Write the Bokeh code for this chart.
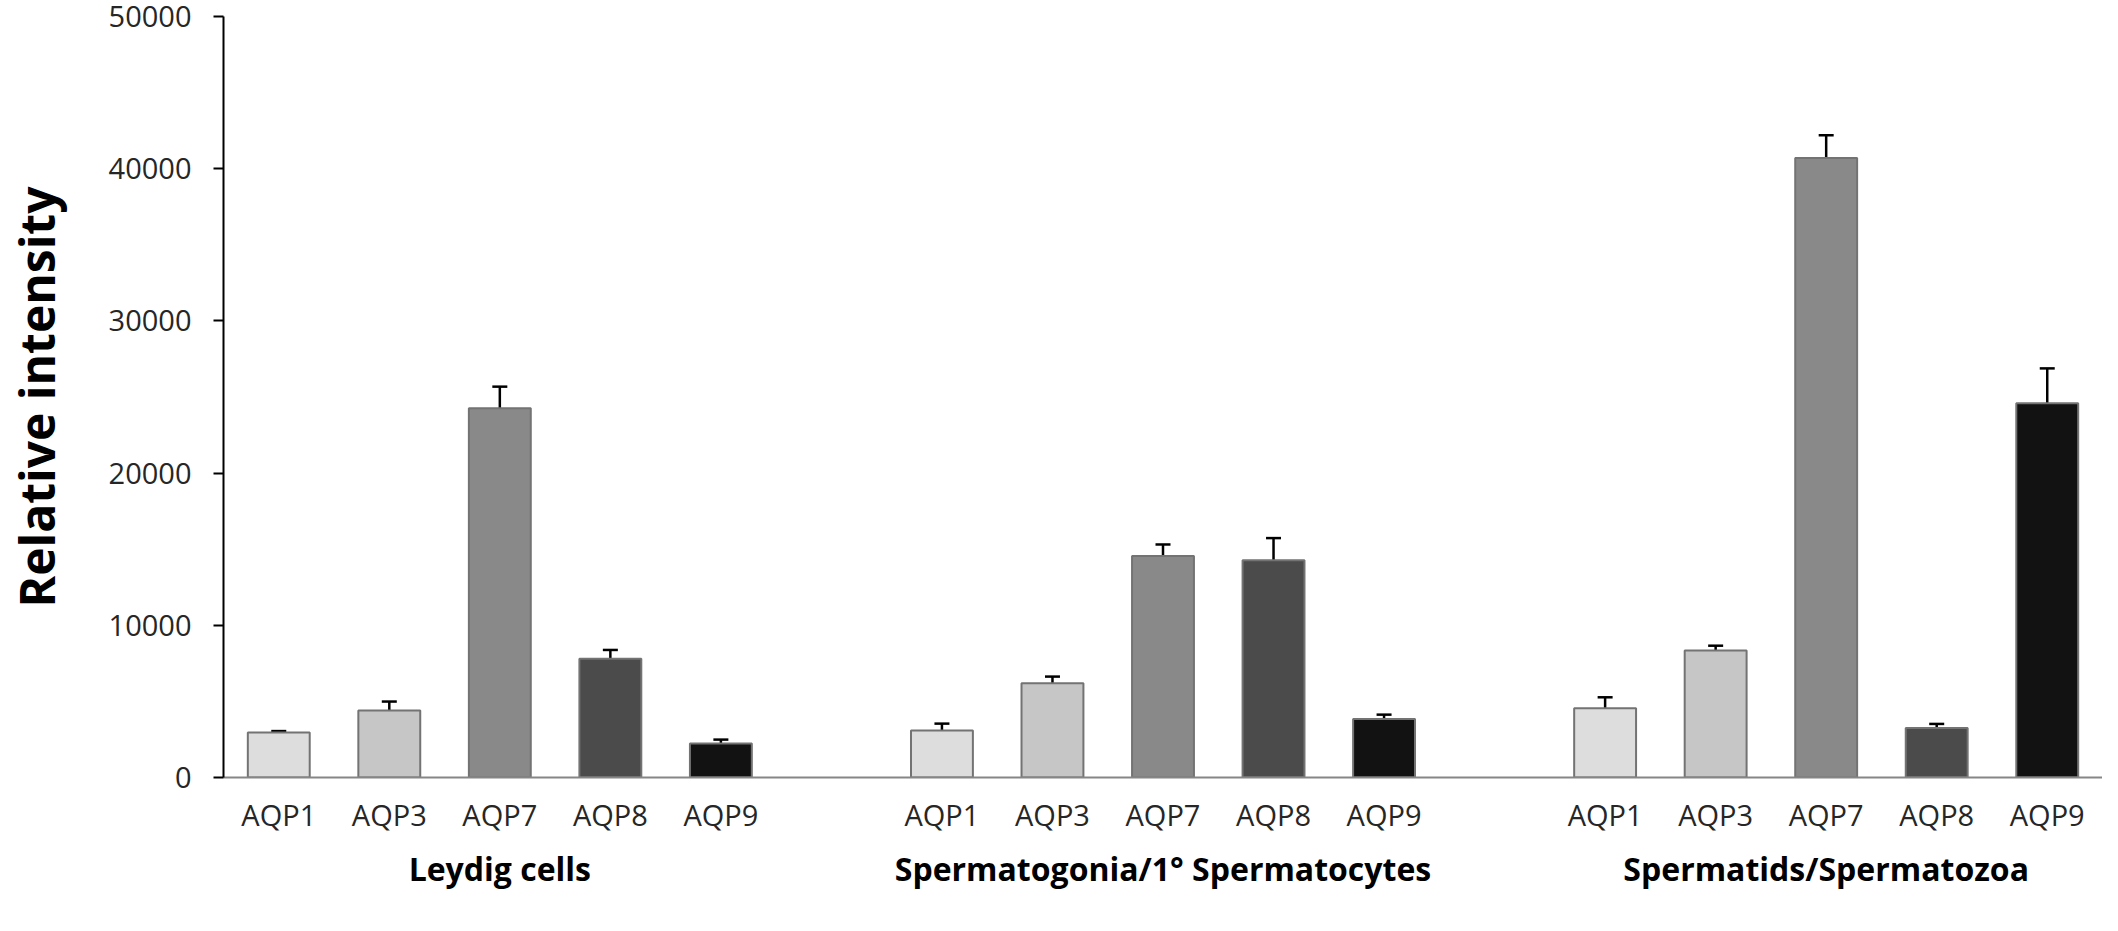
from bokeh.plotting import figure
from bokeh.models import ColumnDataSource, Range1d, FixedTicker, LinearAxis, Whisker, TeeHead
from bokeh.embed import file_html
from bokeh.resources import INLINE

groups = ["Leydig cells", "Spermatogonia/1° Spermatocytes", "Spermatids/Spermatozoa"]
aqps = ["AQP1", "AQP3", "AQP7", "AQP8", "AQP9"]
colors = ["#dddddd", "#c6c6c6", "#898989", "#4b4b4b", "#121212"]

leydig_mean = [2950, 4400, 24260, 7810, 2230]
leydig_err = [100, 590, 1420, 570, 260]
spermatogonia_mean = [3080, 6190, 14550, 14280, 3850]
spermatogonia_err = [460, 440, 760, 1450, 280]
spermatids_mean = [4550, 8350, 40700, 3260, 24590]
spermatids_err = [720, 310, 1500, 260, 2290]

y_ticks = [0, 10000, 20000, 30000, 40000, 50000]
y_title = "Relative intensity"

means = [leydig_mean, spermatogonia_mean, spermatids_mean]
errs = [leydig_err, spermatogonia_err, spermatids_err]

xs, tops, uppers, fills, labels = [], [], [], [], []
for gi in range(len(groups)):
    for ai in range(len(aqps)):
        xs.append(gi * (len(aqps) + 1) + ai)
        tops.append(means[gi][ai])
        uppers.append(means[gi][ai] + errs[gi][ai])
        fills.append(colors[ai])
        labels.append(aqps[ai])

src = ColumnDataSource(dict(x=xs, top=tops, upper=uppers, fill=fills))

FONT = "Open Sans"

p = figure(width=2102, frame_height=761, output_backend="svg", toolbar_location=None,
           x_range=Range1d(-0.5, 16.5), y_range=Range1d(0, 50000),
           min_border_left=212, min_border_right=0, min_border_top=16, min_border_bottom=10)
p.outline_line_color = None
p.xgrid.grid_line_color = None
p.ygrid.grid_line_color = None
p.background_fill_color = "white"
p.border_fill_color = "white"

p.vbar(x="x", top="top", bottom=0, width=0.56, source=src,
       fill_color="fill", line_color="#737373", line_width=2)

w = Whisker(base="x", lower="top", upper="upper", source=src,
            line_color="black", line_width=2.5,
            upper_head=TeeHead(size=15, line_color="black", line_width=2.5),
            lower_head=None)
p.add_layout(w)

# y axis
ya = p.yaxis[0]
ya.ticker = FixedTicker(ticks=y_ticks)
ya.axis_label = y_title
ya.axis_label_text_font = FONT
ya.axis_label_text_font_style = "bold"
ya.axis_label_text_font_size = "48px"
ya.axis_label_text_color = "black"
ya.axis_label_standoff = 37
ya.major_label_text_font = FONT
ya.major_label_text_font_size = "29px"
ya.major_label_text_color = "#262626"
ya.major_label_standoff = 22
ya.axis_line_color = "black"
ya.axis_line_width = 2
ya.major_tick_line_color = "black"
ya.major_tick_line_width = 2
ya.major_tick_out = 10
ya.major_tick_in = 0
ya.minor_tick_line_color = None

# x axis (AQP labels)
xa = p.xaxis[0]
xa.ticker = FixedTicker(ticks=xs)
xa.major_label_overrides = {x: lab for x, lab in zip(xs, labels)}
xa.major_label_text_font = FONT
xa.major_label_text_font_size = "29px"
xa.major_label_text_color = "#262626"
xa.major_label_standoff = 11
xa.axis_line_color = "#868686"
xa.axis_line_width = 2
xa.major_tick_line_color = None
xa.minor_tick_line_color = None

# group labels axis
gcenters = [gi * (len(aqps) + 1) + (len(aqps) - 1) / 2 for gi in range(len(groups))]
ga = LinearAxis(ticker=FixedTicker(ticks=gcenters))
ga.major_label_overrides = {c: g for c, g in zip(gcenters, groups)}
ga.major_label_text_font = FONT
ga.major_label_text_font_style = "bold"
ga.major_label_text_font_size = "32px"
ga.major_label_text_color = "black"
ga.major_label_standoff = 4
ga.axis_line_color = None
ga.major_tick_line_color = None
ga.minor_tick_line_color = None
p.add_layout(ga, "below")

open("out.html", "w").write(file_html(p, INLINE))
